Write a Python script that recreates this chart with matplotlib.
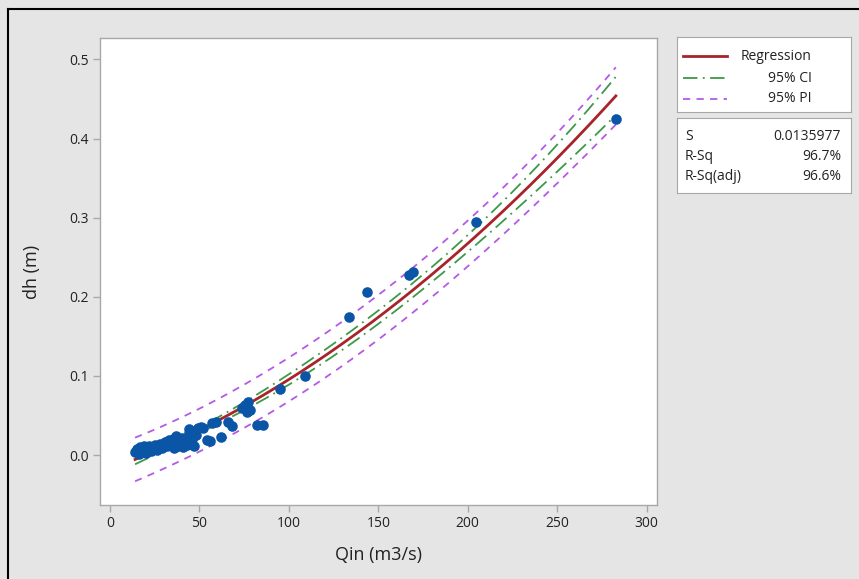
import matplotlib.pyplot as plt
import numpy as np
from matplotlib.lines import Line2D

plt.rcParams['font.family'] = ['Open Sans', 'DejaVu Sans']

# inflow discharge (m3/s) and head difference (m)
qin = [14, 15, 16, 17, 18, 19, 20, 21, 22, 23, 24, 25, 26, 27, 28, 29, 30,
       31, 32, 33, 34, 35, 36, 36, 37, 38, 38, 39, 40, 41, 42, 43, 44, 44,
       45, 46, 47, 48, 49, 51, 52, 54, 56, 57, 59, 62, 66, 68, 74, 75.5,
       76.4, 77.3, 78.3, 82, 85.5, 95, 109, 133.4, 143.5, 167, 169.5,
       204.6, 282.8]
dh = [0.004, 0.008, 0.002, 0.010, 0.006, 0.012, 0.003, 0.008, 0.011, 0.005,
      0.009, 0.013, 0.007, 0.010, 0.014, 0.009, 0.012, 0.016, 0.011, 0.019,
      0.014, 0.021, 0.009, 0.017, 0.024, 0.012, 0.020, 0.015, 0.022, 0.010,
      0.018, 0.013, 0.028, 0.033, 0.030, 0.020, 0.012, 0.025, 0.034, 0.036,
      0.034, 0.019, 0.018, 0.040, 0.042, 0.023, 0.042, 0.037, 0.059, 0.063,
      0.055, 0.067, 0.057, 0.038, 0.038, 0.084, 0.100, 0.174, 0.206, 0.227,
      0.231, 0.294, 0.425]

stat_names = ['S', 'R-Sq', 'R-Sq(adj)']
stat_values = ['0.0135977', '96.7%', '96.6%']

x = np.array(qin, dtype=float)
y = np.array(dh, dtype=float)

# quadratic fit with confidence / prediction bands
X = np.column_stack([np.ones_like(x), x, x ** 2])
beta, *_ = np.linalg.lstsq(X, y, rcond=None)
resid = y - X @ beta
n, p = X.shape
s = np.sqrt(resid @ resid / (n - p))
XtX_inv = np.linalg.inv(X.T @ X)
t_crit = 1.99

xs = np.linspace(x.min(), x.max(), 300)
Xs = np.column_stack([np.ones_like(xs), xs, xs ** 2])
yfit = Xs @ beta
lev = np.einsum('ij,jk,ik->i', Xs, XtX_inv, Xs)
ci = t_crit * s * np.sqrt(lev)
pi = t_crit * s * np.sqrt(1 + lev)

red = '#a8232a'
green = '#3c9a46'
purple = '#b45ae6'
blue = '#0a55a5'
grid_gray = '#a8a8a8'
ci_ls = (0, (8, 3, 1, 3))
pi_ls = (0, (4, 3.5))

fig = plt.figure(figsize=(8.59, 5.79), dpi=100, facecolor='#e5e5e5')
W, H = 859, 579

def fx(px):
    return px / W

def fy(py):
    return 1 - py / H

# window frame on top and left
fig.add_artist(Line2D([fx(8), 1], [fy(9), fy(9)], color='black', lw=1.5))
fig.add_artist(Line2D([fx(8), fx(8)], [0, fy(9)], color='black', lw=1.5))

ax = fig.add_axes([fx(100), fy(505), fx(657) - fx(100), fy(38) - fy(505)])
ax.set_facecolor('white')

ax.plot(xs, yfit + pi, color=purple, lw=1.3, linestyle=pi_ls)
ax.plot(xs, yfit - pi, color=purple, lw=1.3, linestyle=pi_ls)
ax.plot(xs, yfit + ci, color=green, lw=1.3, linestyle=ci_ls)
ax.plot(xs, yfit - ci, color=green, lw=1.3, linestyle=ci_ls)
ax.plot(xs, yfit, color=red, lw=2.0)
ax.scatter(x, y, s=58, color=blue, zorder=5, linewidths=0)

ax.set_xlim(-5.6, 305.8)
ax.set_ylim(-0.063, 0.527)
ax.set_xticks([0, 50, 100, 150, 200, 250, 300])
ax.set_yticks([0.0, 0.1, 0.2, 0.3, 0.4, 0.5])
ax.set_yticklabels(['0.0', '0.1', '0.2', '0.3', '0.4', '0.5'])
for sp in ax.spines.values():
    sp.set_color(grid_gray)
    sp.set_linewidth(1.0)
ax.tick_params(colors=grid_gray, labelcolor='#222222', length=5, width=1,
               labelsize=10, pad=3)
ax.set_xlabel('Qin (m3/s)', fontsize=13, color='#222222', labelpad=11)
ax.set_ylabel('dh (m)', fontsize=13, color='#222222', labelpad=20)

# legend box
lg = fig.add_axes([fx(677), fy(112), fx(851) - fx(677), fy(37) - fy(112)])
lg.set_xlim(677, 851)
lg.set_ylim(112, 37)
lg.set_xticks([])
lg.set_yticks([])
lg.set_facecolor('white')
for sp in lg.spines.values():
    sp.set_color(grid_gray)
entries = [('Regression', red, '-', 2.0, 56),
           ('95% CI', green, ci_ls, 1.3, 78),
           ('95% PI', purple, pi_ls, 1.3, 99)]
for label, c, ls, lw, yy in entries:
    lg.plot([683, 727], [yy, yy], color=c, linestyle=ls, lw=lw)
    lg.text(812, yy, label, ha='right', va='center', fontsize=10,
            color='#222222')

# summary statistics box
st = fig.add_axes([fx(677), fy(193), fx(851) - fx(677), fy(118) - fy(193)])
st.set_xlim(677, 851)
st.set_ylim(193, 118)
st.set_xticks([])
st.set_yticks([])
st.set_facecolor('white')
for sp in st.spines.values():
    sp.set_color(grid_gray)
for name, val, yy in zip(stat_names, stat_values, [137, 157, 177]):
    st.text(685, yy, name, ha='left', va='center', fontsize=10,
            color='#222222')
    st.text(841, yy, val, ha='right', va='center', fontsize=10,
            color='#222222')

fig.savefig('out.png', dpi=100, facecolor=fig.get_facecolor())
